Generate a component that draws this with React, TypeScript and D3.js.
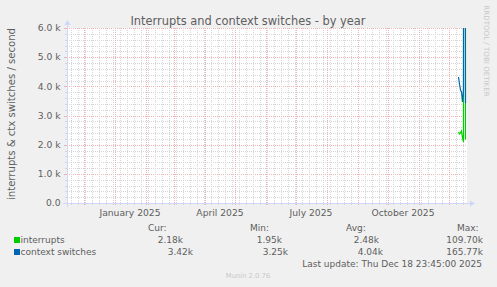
import React, { useEffect, useRef } from "react";
import * as d3 from "d3";

// daily averages (only the last days of the year hold data)
const days = [
  "2025-12-10",
  "2025-12-11",
  "2025-12-12",
  "2025-12-13",
  "2025-12-14",
  "2025-12-15",
  "2025-12-16",
  "2025-12-17",
];
const interrupts = [2435, 2366, 2400, 2470, 2230, 2092, 109700, 2180];
const ctxSwitches = [4320, 4080, 3875, 3806, 3463, 3875, 165770, 3420];

const yTicks = [0, 1000, 2000, 3000, 4000, 5000, 6000];
const yTickLabels = ["0.0", "1.0 k", "2.0 k", "3.0 k", "4.0 k", "5.0 k", "6.0 k"];
const monthLabels = ["January 2025", "April 2025", "July 2025", "October 2025"];
const monthLabelDates = ["2025-01-01", "2025-04-01", "2025-07-01", "2025-10-01"];

const seriesNames = ["interrupts", "context switches"];
const seriesColors = ["#00CC00", "#0066B3"];
const curVals = ["2.18k", "3.42k"];
const minVals = ["1.95k", "3.25k"];
const avgVals = ["2.48k", "4.04k"];
const maxVals = ["109.70k", "165.77k"];

const W = 497;
const H = 287;
const FONT = "'DejaVu Sans', sans-serif";
const TXT = "#5e5e5e";

const App = () => {
  const ref = useRef(null);

  useEffect(() => {
    const svg = d3.select(ref.current);
    svg.selectAll("*").remove();

    const left = 67,
      top = 28,
      right = 467,
      bottom = 203;

    const end = new Date(Date.UTC(2025, 11, 19));
    const start = d3.utcDay.offset(end, -400);
    const x = d3.scaleUtc().domain([start, end]).range([left, right]);
    const y = d3.scaleLinear().domain([0, 6000]).range([bottom, top]);

    svg.append("rect").attr("width", W).attr("height", H).attr("fill", "#F0F0F0");
    svg
      .append("rect")
      .attr("x", left)
      .attr("y", top)
      .attr("width", right - left)
      .attr("height", bottom - top)
      .attr("fill", "#FFFFFF");

    const grid = svg.append("g").attr("shape-rendering", "crispEdges");
    const minorCol = "#d6d6d6";
    const majorCol = "#f0b2b2";

    // horizontal grid
    d3.range(0, 6001, 200).forEach((v) => {
      const major = v % 1000 === 0;
      grid
        .append("line")
        .attr("x1", left)
        .attr("x2", right)
        .attr("y1", Math.round(y(v)) + 0.5)
        .attr("y2", Math.round(y(v)) + 0.5)
        .attr("stroke", major ? majorCol : minorCol)
        .attr("stroke-dasharray", "1,1");
      grid
        .append("line")
        .attr("x1", left - (major ? 3 : 2))
        .attr("x2", left)
        .attr("y1", Math.round(y(v)) + 0.5)
        .attr("y2", Math.round(y(v)) + 0.5)
        .attr("stroke", major ? majorCol : minorCol);
    });

    // vertical grid: weeks (minor) and months (major)
    d3.utcMonday.range(start, end).forEach((d) => {
      const px = Math.round(x(d)) + 0.5;
      grid
        .append("line")
        .attr("x1", px)
        .attr("x2", px)
        .attr("y1", top)
        .attr("y2", bottom + 2)
        .attr("stroke", minorCol)
        .attr("stroke-dasharray", "1,1");
    });
    d3.utcMonth.range(start, end).forEach((d) => {
      const px = Math.round(x(d)) + 0.5;
      grid
        .append("line")
        .attr("x1", px)
        .attr("x2", px)
        .attr("y1", top)
        .attr("y2", bottom + 3)
        .attr("stroke", majorCol)
        .attr("stroke-dasharray", "1,1");
    });

    // axes
    const axisCol = "#CFD6F8";
    grid
      .append("line")
      .attr("x1", left - 4)
      .attr("x2", right + 4)
      .attr("y1", bottom + 0.5)
      .attr("y2", bottom + 0.5)
      .attr("stroke", axisCol);
    grid
      .append("line")
      .attr("x1", left + 0.5)
      .attr("x2", left + 0.5)
      .attr("y1", bottom + 4)
      .attr("y2", top - 4)
      .attr("stroke", axisCol);
    svg
      .append("path")
      .attr("d", `M${right + 3},${bottom - 2.5}L${right + 8},${bottom + 0.5}L${right + 3},${bottom + 3.5}Z`)
      .attr("fill", axisCol);
    svg
      .append("path")
      .attr("d", `M${left - 2.5},${top - 3}L${left + 0.5},${top - 8}L${left + 3.5},${top - 3}Z`)
      .attr("fill", axisCol);

    // y tick labels
    svg
      .append("g")
      .selectAll("text")
      .data(yTicks)
      .join("text")
      .attr("x", 60.5)
      .attr("y", (d) => y(d))
      .attr("dy", "0.36em")
      .attr("text-anchor", "end")
      .attr("font-family", FONT)
      .attr("font-size", 9.2)
      .attr("fill", TXT)
      .text((d, i) => yTickLabels[i]);

    // x labels centred half a month after the month start
    svg
      .append("g")
      .selectAll("text")
      .data(monthLabelDates)
      .join("text")
      .attr("x", (d) => x(d3.utcDay.offset(new Date(d + "T00:00:00Z"), 15)))
      .attr("y", 215.5)
      .attr("text-anchor", "middle")
      .attr("font-family", FONT)
      .attr("font-size", 9.2)
      .attr("fill", TXT)
      .text((d, i) => monthLabels[i]);

    // series lines
    svg
      .append("clipPath")
      .attr("id", "plotclip")
      .append("rect")
      .attr("x", left)
      .attr("y", top)
      .attr("width", right - left)
      .attr("height", bottom - top);

    const parsed = days.map((d) => new Date(d + "T00:00:00Z"));
    const line = d3
      .line<number>()
      .x((d, i) => x(parsed[i]) + 0.5)
      .y((d) => y(d));
    [interrupts, ctxSwitches].forEach((vals, k) => {
      svg
        .append("path")
        .attr("clip-path", "url(#plotclip)")
        .attr("d", line(vals))
        .attr("fill", "none")
        .attr("stroke", seriesColors[k])
        .attr("stroke-width", 1.2);
    });

    // title
    svg
      .append("text")
      .attr("x", 248)
      .attr("y", 25)
      .attr("text-anchor", "middle")
      .attr("font-family", FONT)
      .attr("font-size", 11.4)
      .attr("fill", TXT)
      .text("Interrupts and context switches - by year");

    // y axis title
    svg
      .append("text")
      .attr("transform", "translate(14.5,114) rotate(-90)")
      .attr("text-anchor", "middle")
      .attr("font-family", FONT)
      .attr("font-size", 10.1)
      .attr("fill", TXT)
      .text("interrupts & ctx switches / second");

    // watermark
    svg
      .append("text")
      .attr("transform", "translate(484,51) rotate(90)")
      .attr("text-anchor", "middle")
      .attr("font-family", FONT)
      .attr("font-size", 7.1)
      .attr("fill", "#c8c8c8")
      .text("RRDTOOL / TOBI OETIKER");

    // legend
    const leg = svg
      .append("g")
      .attr("font-family", FONT)
      .attr("font-size", 9)
      .attr("fill", TXT);
    const heads = [
      ["Cur:", 148],
      ["Min:", 250],
      ["Avg:", 346],
      ["Max:", 457],
    ];
    heads.forEach(([t, px]) => {
      leg.append("text").attr("x", px).attr("y", 231).text(t as string);
    });
    const cols = [curVals, minVals, avgVals, maxVals];
    const colEnds = [
      [183, 193],
      [282, 288],
      [379, 383],
      [483, 483],
    ];
    seriesNames.forEach((name, i) => {
      const by = 243 + i * 12;
      leg
        .append("rect")
        .attr("x", 14)
        .attr("y", by - 6)
        .attr("width", 6)
        .attr("height", 6)
        .attr("fill", seriesColors[i]);
      leg.append("text").attr("x", 20.5).attr("y", by).text(name);
      cols.forEach((c, j) => {
        leg
          .append("text")
          .attr("x", colEnds[j][i])
          .attr("y", by)
          .attr("text-anchor", "end")
          .text(c[i]);
      });
    });
    leg
      .append("text")
      .attr("x", 482)
      .attr("y", 267)
      .attr("text-anchor", "end")
      .text("Last update: Thu Dec 18 23:45:00 2025");
    svg
      .append("text")
      .attr("x", 248)
      .attr("y", 278)
      .attr("text-anchor", "middle")
      .attr("font-family", FONT)
      .attr("font-size", 6.8)
      .attr("fill", "#c8c8c8")
      .text("Munin 2.0.76");
  }, []);

  return (
    <svg
      ref={ref}
      width={W}
      height={H}
      style={{ position: "absolute", left: 0, top: 0, display: "block" }}
    />
  );
};

export default App;
